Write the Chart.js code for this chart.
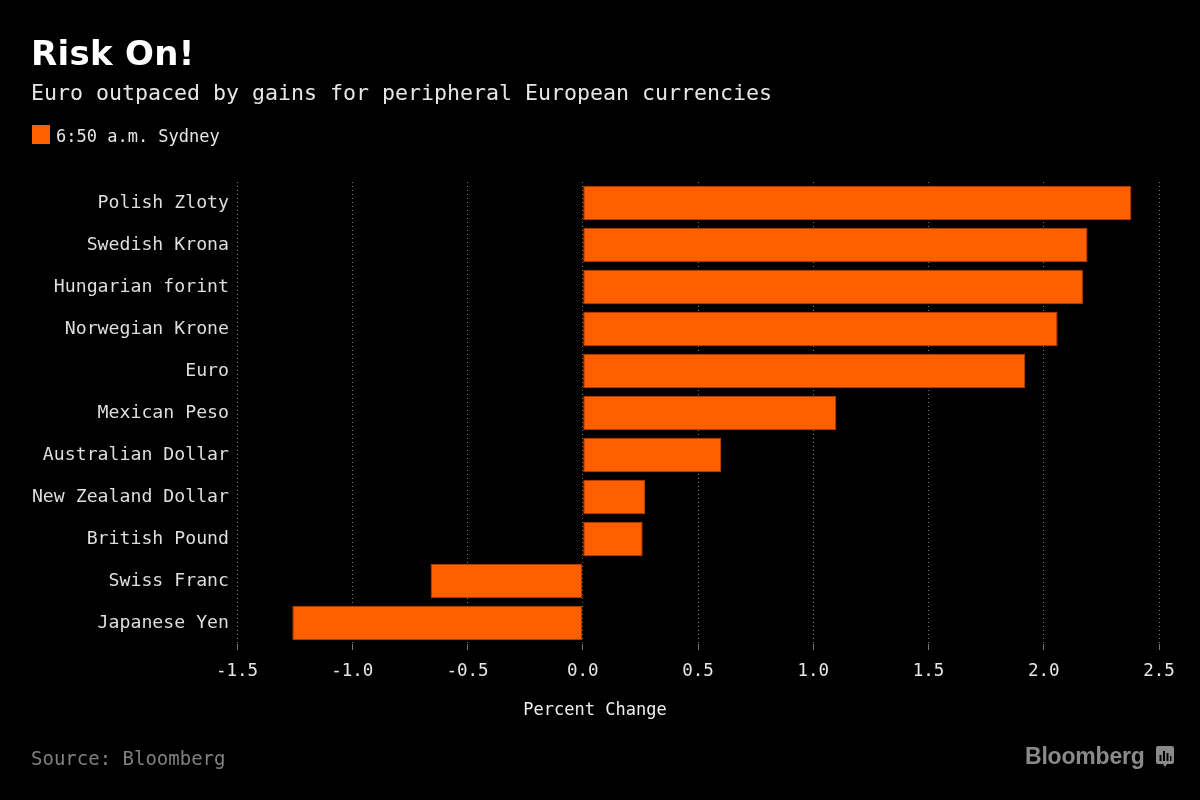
<!DOCTYPE html>
<html>
<head>
<meta charset="utf-8">
<script src="https://cdn.jsdelivr.net/npm/chart.js@4.4.1/dist/chart.umd.min.js"></script>
<style>
  body { margin: 0; background: #000; width: 1200px; height: 800px; overflow: hidden; position: relative; font-family: "DejaVu Sans Mono", monospace; }
  #chartCanvas { position: absolute; left: 0; top: 0; }
  .txt { position: absolute; white-space: nowrap; line-height: 1; }
  #title { left: 31px; top: 36px; font-family: "DejaVu Sans", sans-serif; font-weight: bold; font-size: 34px; color: #fff; letter-spacing: 0.3px; }
  #subtitle { left: 31px; top: 82px; font-size: 21.6px; color: #e6e6e6; }
  #legendBox { position: absolute; left: 32px; top: 125px; width: 18px; height: 19px; background: #ff5f00; }
  #legendText { left: 56px; top: 128px; font-size: 17px; color: #e6e6e6; }
  #axisTitle { left: 0; width: 1190px; text-align: center; top: 701px; font-size: 17px; color: #f0f0f0; }
  #source { left: 31px; top: 749px; font-size: 19px; color: #808080; }
  #logo { left: 1025px; top: 745px; font-family: "Liberation Sans", Arial, sans-serif; font-weight: bold; font-size: 23px; color: #8a8a8a; letter-spacing: -0.2px; }
  #logoIcon { position: absolute; left: 1156px; top: 746px; }
</style>
</head>
<body>
<canvas id="chartCanvas" width="1200" height="800"></canvas>
<div class="txt" id="title">Risk On!</div>
<div class="txt" id="subtitle">Euro outpaced by gains for peripheral European currencies</div>
<div id="legendBox"></div>
<div class="txt" id="legendText">6:50 a.m. Sydney</div>
<div class="txt" id="axisTitle">Percent Change</div>
<div class="txt" id="source">Source: Bloomberg</div>
<div class="txt" id="logo">Bloomberg</div>
<svg id="logoIcon" width="18" height="22" viewBox="0 0 18 22">
  <path d="M2 0h14a2 2 0 0 1 2 2v14a2 2 0 0 1-2 2h-5l-2 3-2-3H2a2 2 0 0 1-2-2V2a2 2 0 0 1 2-2z" fill="#8a8a8a"/>
  <rect x="3.5" y="9" width="2" height="6" fill="#000"/>
  <rect x="7" y="5" width="2" height="10" fill="#000"/>
  <rect x="10.5" y="7" width="2" height="8" fill="#000"/>
  <rect x="14" y="10" width="1.5" height="5" fill="#000"/>
</svg>
<script>
const currencies = ['Polish Zloty', 'Swedish Krona', 'Hungarian forint', 'Norwegian Krone', 'Euro',
    'Mexican Peso', 'Australian Dollar', 'New Zealand Dollar', 'British Pound', 'Swiss Franc', 'Japanese Yen'];
const percentChange = [2.38, 2.19, 2.17, 2.06, 1.92, 1.10, 0.60, 0.27, 0.26, -0.66, -1.26];
const xTicks = [-1.5, -1.0, -0.5, 0.0, 0.5, 1.0, 1.5, 2.0, 2.5];

const ctx = document.getElementById('chartCanvas').getContext('2d');

new Chart(ctx, {
    type: 'bar',
    data: {
        labels: currencies,
        datasets: [{
            label: '6:50 a.m. Sydney',
            data: percentChange,
            backgroundColor: '#ff5f00',
            borderColor: '#b84400',
            borderWidth: 1,
            borderSkipped: false,
            barPercentage: 0.82,
            categoryPercentage: 1.0
        }]
    },
    options: {
        indexAxis: 'y',
        responsive: false,
        animation: false,
        devicePixelRatio: 1,
        layout: {
            padding: { left: 0, right: 41, top: 182, bottom: 0 }
        },
        plugins: {
            legend: { display: false },
            tooltip: { enabled: false }
        },
        scales: {
            x: {
                type: 'linear',
                min: -1.5,
                max: 2.5,
                afterBuildTicks: (scale) => {
                    scale.ticks = xTicks.map(v => ({ value: v }));
                },
                afterFit: (scale) => {
                    scale.height = 156;
                },
                grid: {
                    color: '#777',
                    lineWidth: 1,
                    drawTicks: true,
                    tickLength: 6
                },
                border: {
                    display: false,
                    dash: [1, 3]
                },
                ticks: {
                    color: '#e6e6e6',
                    padding: 11,
                    maxRotation: 0,
                    font: { family: 'DejaVu Sans Mono', size: 17.5 },
                    callback: (v) => Number(v).toFixed(1)
                }
            },
            y: {
                afterFit: (scale) => {
                    scale.width = 237;
                },
                grid: { display: false, drawTicks: false },
                border: { display: false },
                ticks: {
                    color: '#dedede',
                    padding: 8,
                    font: { family: 'DejaVu Sans Mono', size: 18.2 }
                }
            }
        }
    }
});
</script>
</body>
</html>
